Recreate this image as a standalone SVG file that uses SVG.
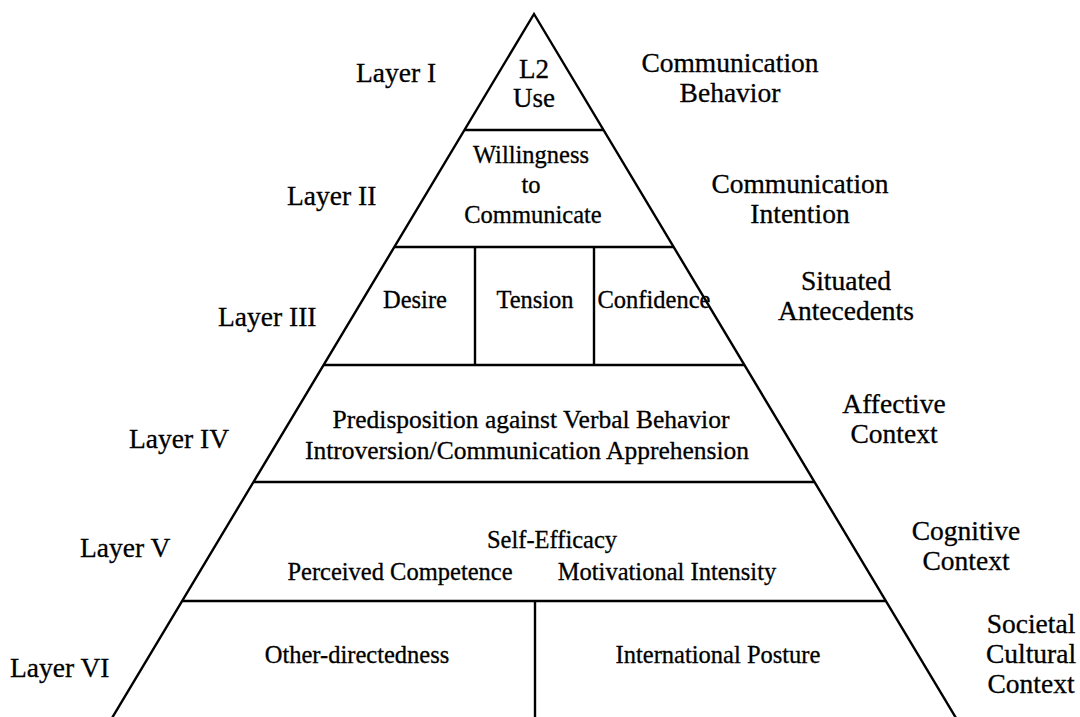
<svg xmlns="http://www.w3.org/2000/svg" width="1080" height="717" viewBox="0 0 1080 717">
<style>
  text { font-family: "Liberation Serif", "Times New Roman", serif; fill: #000; stroke: #000; stroke-width: 0.3; }
  .lbl { font-size: 27.5px; }
  .ctx { font-size: 27.5px; text-anchor: middle; }
  .in { font-size: 24.5px; text-anchor: middle; }
  .big { font-size: 25.5px; }
  .ln { stroke: #000; stroke-width: 2.4; fill: none; stroke-linecap: butt; }
</style>
<rect width="1080" height="717" fill="#fff"/>
<g id="connectors">
  <polyline class="ln" points="112,718 534,14 956,718" stroke-linejoin="miter"/>
  <line class="ln" x1="464.5" y1="130" x2="603.5" y2="130"/>
  <line class="ln" x1="394.5" y1="247" x2="673.5" y2="247"/>
  <line class="ln" x1="475" y1="247" x2="475" y2="365"/>
  <line class="ln" x1="594" y1="247" x2="594" y2="365"/>
  <line class="ln" x1="323.8" y1="365" x2="744.2" y2="365"/>
  <line class="ln" x1="253.7" y1="482" x2="814.3" y2="482"/>
  <line class="ln" x1="182.4" y1="601" x2="885.6" y2="601"/>
  <line class="ln" x1="535" y1="601" x2="535" y2="717"/>
</g>
<g id="layer-1">
  <text class="lbl" x="356" y="82">Layer I</text>
  <text class="in" x="534" y="78" style="font-size:27px">L2</text>
  <text class="in" x="534" y="107" style="font-size:27px">Use</text>
  <text class="ctx" x="730" y="72">Communication</text>
  <text class="ctx" x="730" y="102">Behavior</text>
</g>
<g id="layer-2">
  <text class="lbl" x="287" y="205">Layer II</text>
  <text class="in" x="531" y="163">Willingness</text>
  <text class="in" x="531" y="193">to</text>
  <text class="in" x="533" y="223">Communicate</text>
  <text class="ctx" x="800" y="193">Communication</text>
  <text class="ctx" x="800" y="223">Intention</text>
</g>
<g id="layer-3">
  <text class="lbl" x="218" y="326">Layer III</text>
  <text class="in" x="415" y="308">Desire</text>
  <text class="in" x="535" y="308">Tension</text>
  <text class="in" x="654" y="308">Confidence</text>
  <text class="ctx" x="846" y="290">Situated</text>
  <text class="ctx" x="846" y="320">Antecedents</text>
</g>
<g id="layer-4">
  <text class="lbl" x="129" y="448">Layer IV</text>
  <text class="in big" x="531" y="428">Predisposition against Verbal Behavior</text>
  <text class="in big" x="527" y="459">Introversion/Communication Apprehension</text>
  <text class="ctx" x="894" y="413">Affective</text>
  <text class="ctx" x="894" y="443">Context</text>
</g>
<g id="layer-5">
  <text class="lbl" x="80" y="557">Layer V</text>
  <text class="in" x="552" y="548">Self-Efficacy</text>
  <text class="in" x="400" y="580">Perceived Competence</text>
  <text class="in" x="667" y="580">Motivational Intensity</text>
  <text class="ctx" x="966" y="540">Cognitive</text>
  <text class="ctx" x="966" y="570">Context</text>
</g>
<g id="layer-6">
  <text class="lbl" x="10" y="677">Layer VI</text>
  <text class="in" x="357" y="663">Other-directedness</text>
  <text class="in" x="718" y="663">International Posture</text>
  <text class="ctx" x="1031" y="633">Societal</text>
  <text class="ctx" x="1031" y="663">Cultural</text>
  <text class="ctx" x="1031" y="693">Context</text>
</g>
</svg>
